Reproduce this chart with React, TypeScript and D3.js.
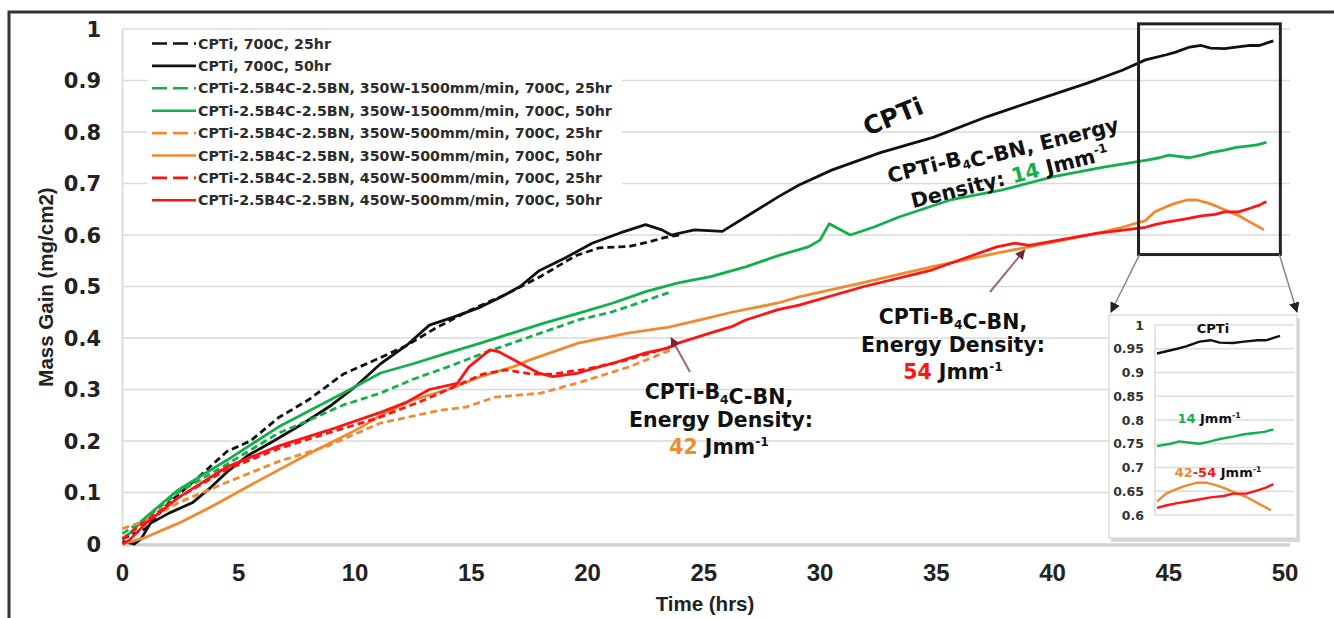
import React from 'react';
import * as d3 from 'd3';

type P = [number, number];

const X_TICKS = [0, 5, 10, 15, 20, 25, 30, 35, 40, 45, 50];
const Y_TICKS = [0, 0.1, 0.2, 0.3, 0.4, 0.5, 0.6, 0.7, 0.8, 0.9, 1];
const Y_TICK_LABELS = ['0', '0.1', '0.2', '0.3', '0.4', '0.5', '0.6', '0.7', '0.8', '0.9', '1'];
const INSET_Y_TICKS = [0.6, 0.65, 0.7, 0.75, 0.8, 0.85, 0.9, 0.95, 1];
const INSET_Y_LABELS = ['0.6', '0.65', '0.7', '0.75', '0.8', '0.85', '0.9', '0.95', '1'];

const SERIES_LABELS = [
  'CPTi, 700C, 25hr',
  'CPTi, 700C, 50hr',
  'CPTi-2.5B4C-2.5BN, 350W-1500mm/min, 700C, 25hr',
  'CPTi-2.5B4C-2.5BN, 350W-1500mm/min, 700C, 50hr',
  'CPTi-2.5B4C-2.5BN, 350W-500mm/min, 700C, 25hr',
  'CPTi-2.5B4C-2.5BN, 350W-500mm/min, 700C, 50hr',
  'CPTi-2.5B4C-2.5BN, 450W-500mm/min, 700C, 25hr',
  'CPTi-2.5B4C-2.5BN, 450W-500mm/min, 700C, 50hr',
];
const SERIES_COLORS = ['#111111', '#111111', '#12b04a', '#12b04a', '#f08a30', '#f08a30', '#ff1414', '#ff1414'];
const SERIES_DASHED = [true, false, true, false, true, false, true, false];

const CPTI_25: P[] = [[0,0.01],[1,0.03],[2,0.08],[3.4,0.135],[4.5,0.18],[5.5,0.2],[6.7,0.245],[8,0.28],[9.5,0.33],[11,0.36],[12.2,0.385],[13.5,0.42],[15,0.455],[16.5,0.485],[18,0.52],[19.5,0.56],[20.5,0.575],[21.8,0.578],[22.5,0.585],[23.4,0.596],[24,0.6]];
const CPTI_50: P[] = [[0,0.005],[0.5,0],[0.8,0.01],[1.2,0.04],[2,0.06],[3,0.08],[3.8,0.11],[4.5,0.14],[5.4,0.172],[6.5,0.2],[7.7,0.232],[9,0.27],[10,0.305],[11.1,0.35],[12.2,0.385],[13.2,0.425],[14.2,0.44],[15.4,0.46],[16.3,0.48],[17.1,0.5],[17.9,0.53],[19.1,0.557],[20.2,0.584],[21.4,0.604],[22.5,0.62],[23.2,0.61],[23.6,0.6],[24.6,0.61],[25.8,0.607],[26.8,0.635],[28.2,0.674],[29.1,0.697],[30.5,0.726],[32.6,0.76],[34.9,0.79],[37.2,0.83],[39.3,0.862],[41.5,0.895],[43,0.92],[44,0.94],[44.9,0.95],[45.3,0.955],[45.9,0.965],[46.4,0.968],[46.8,0.963],[47.4,0.962],[47.9,0.965],[48.5,0.968],[48.9,0.968],[49.5,0.977]];
const HI_25: P[] = [[0,0.02],[1,0.05],[2.4,0.1],[4.5,0.155],[6.7,0.215],[8,0.24],[9.5,0.27],[11.1,0.293],[12.5,0.32],[14,0.344],[15.5,0.37],[17.5,0.402],[19.6,0.435],[21,0.45],[22.2,0.468],[23.6,0.49]];
const HI_50: P[] = [[0,0.01],[0.3,0.02],[1,0.052],[2.4,0.105],[4.5,0.163],[6.7,0.227],[9.5,0.293],[11.1,0.332],[12.5,0.35],[14,0.371],[15.4,0.39],[16.8,0.41],[18.2,0.43],[19.6,0.448],[21.1,0.468],[22.5,0.49],[23.9,0.507],[25.3,0.519],[26.8,0.538],[28.2,0.56],[29.5,0.577],[30,0.59],[30.4,0.622],[30.8,0.612],[31.3,0.6],[32.3,0.615],[33.4,0.635],[35.6,0.668],[37.8,0.687],[40,0.713],[42.2,0.732],[44,0.745],[44.6,0.75],[45,0.755],[45.5,0.752],[45.9,0.75],[46.4,0.755],[46.8,0.76],[47.4,0.765],[47.9,0.77],[48.3,0.772],[48.8,0.775],[49.2,0.78]];
const MID_25: P[] = [[0,0.03],[1,0.045],[2.4,0.08],[4.5,0.12],[6.7,0.16],[8.8,0.19],[11.1,0.235],[13.7,0.26],[14.8,0.266],[16,0.285],[18,0.293],[19.6,0.313],[21.8,0.344],[23.6,0.377]];
const MID_50: P[] = [[0,0],[1,0.013],[2.4,0.04],[3.8,0.072],[5.9,0.124],[8.1,0.177],[10.2,0.225],[11.1,0.25],[12.5,0.28],[14,0.3],[15.4,0.325],[16.8,0.344],[17.5,0.357],[19.6,0.39],[21.8,0.41],[23.5,0.421],[25.3,0.44],[26.2,0.45],[28.2,0.468],[29.1,0.48],[31.9,0.508],[34.8,0.538],[37.6,0.565],[39,0.577],[41.9,0.603],[43,0.615],[44,0.628],[44.4,0.645],[44.9,0.655],[45.3,0.662],[45.8,0.668],[46.2,0.668],[46.7,0.662],[47.1,0.655],[47.6,0.645],[48,0.638],[48.5,0.625],[48.9,0.615],[49.1,0.61]];
const LO_25: P[] = [[0,0.01],[1,0.045],[2.4,0.09],[4.5,0.145],[6.7,0.185],[8.8,0.215],[11,0.245],[13,0.28],[14.5,0.31],[15.5,0.33],[16.5,0.338],[17.6,0.33],[18.5,0.33],[20,0.34],[21.5,0.355],[23,0.375],[23.8,0.385]];
const LO_50: P[] = [[0,0],[0.3,0.008],[1,0.04],[2.4,0.09],[4.5,0.15],[6.7,0.19],[8.8,0.22],[11,0.254],[12.2,0.275],[13.2,0.3],[14.4,0.312],[14.9,0.344],[15.8,0.377],[16.2,0.373],[17.1,0.351],[17.9,0.332],[18.5,0.325],[19.6,0.332],[20.5,0.344],[21.1,0.351],[22.5,0.371],[23.4,0.38],[23.9,0.39],[25.3,0.41],[26.2,0.422],[26.8,0.435],[28.2,0.455],[29.1,0.464],[31.9,0.5],[34.8,0.532],[37.6,0.577],[38.4,0.584],[39,0.58],[41.9,0.603],[44,0.615],[44.4,0.62],[44.9,0.625],[45.3,0.628],[45.8,0.632],[46.4,0.637],[47,0.64],[47.4,0.645],[48,0.645],[48.5,0.652],[48.9,0.658],[49.2,0.665]];

const SERIES: P[][] = [CPTI_25, CPTI_50, HI_25, HI_50, MID_25, MID_50, LO_25, LO_50];
const INSET_SERIES = [1, 3, 5, 7];
const INSET_FROM = 44;

// zoom window in data units
const BOX_T = [43.7, 49.8];
const BOX_V = [0.562, 1.01];

const W = 1334;
const H = 618;

const x = d3.scaleLinear().domain([0, 50]).range([122.5, 1285]);
const y = d3.scaleLinear().domain([0, 1]).range([544, 29]);
const ix = d3.scaleLinear().domain([44, 49.5]).range([1157, 1280]);
const iy = d3.scaleLinear().domain([0.6, 1]).range([515, 325]);

const mainLine = d3.line<P>().x(d => x(d[0])).y(d => y(d[1]));
const insetLine = d3.line<P>().x(d => ix(d[0])).y(d => iy(d[1]));

const BOLD = "'DejaVu Sans', 'Liberation Sans', Arial, sans-serif";
const ARIAL = "'Liberation Sans', Arial, sans-serif";
const NARROW = "'Liberation Sans Narrow', 'Liberation Sans', Arial, sans-serif";

const Sub = ({ c }: { c: string }) => (
  <>
    <tspan fontSize="0.6em" dy="5">{c}</tspan>
    <tspan dy="-5"></tspan>
  </>
);

export default function App() {
  const legendY = (i: number) => 43.5 + i * 22.4;
  const gridRight = x(50) + 5;
  const bx0 = x(BOX_T[0]);
  const bx1 = x(BOX_T[1]);
  const by0 = y(BOX_V[1]);
  const by1 = y(BOX_V[0]);
  const arrow42 = { tail: [690, 372], head: [x(23.6), y(0.4)] };
  const arrow54 = { tail: [990, 292], head: [x(38.8), y(0.571)] };

  return (
    <svg width={W} height={H} style={{ position: 'absolute', left: 0, top: 0, background: '#fff' }}>
      <defs>
        <marker id="ah" viewBox="0 0 10 10" refX="9" refY="5" markerWidth="7" markerHeight="7" orient="auto">
          <path d="M0,0 L10,5 L0,10 z" fill="#222" />
        </marker>
        <marker id="ahm" viewBox="0 0 10 10" refX="9" refY="5" markerWidth="5" markerHeight="5" orient="auto">
          <path d="M0,0 L10,5 L0,10 z" fill="#7a2538" />
        </marker>
      </defs>
      <rect x={0} y={0} width={W} height={H} fill="#fff" />
      {/* outer frame */}
      <rect x={9} y={12} width={W + 20} height={H + 20} fill="none" stroke="#333" strokeWidth={3} />

      {/* gridlines */}
      {Y_TICKS.map(v => (
        <line key={'g' + v} x1={x(0)} x2={gridRight} y1={y(v)} y2={y(v)} stroke="#dadada" strokeWidth={1.5} />
      ))}
      <line x1={x(0)} x2={x(0)} y1={y(1)} y2={y(0)} stroke="#d6d6d6" strokeWidth={1.5} />
      <line x1={x(0)} x2={gridRight} y1={y(0) + 1} y2={y(0) + 1} stroke="#cfcfcf" strokeWidth={3} />

      {/* y tick labels */}
      {Y_TICKS.map((v, i) => (
        <text key={'yt' + v} x={101} y={y(v)} dy="0.36em" textAnchor="end" fontFamily={BOLD} fontWeight="bold" fontSize={21} fill="#222">
          {Y_TICK_LABELS[i]}
        </text>
      ))}
      {/* x tick labels */}
      {X_TICKS.map(t => (
        <text key={'xt' + t} x={x(t)} y={572} dy="0.36em" textAnchor="middle" fontFamily={NARROW} fontWeight="bold" fontSize={24} fill="#222">
          {t}
        </text>
      ))}
      <text x={705} y={604} dy="0.36em" textAnchor="middle" fontFamily={ARIAL} fontWeight="bold" fontSize={20.5} fill="#222">Time (hrs)</text>
      <text transform="translate(46,287) rotate(-90)" dy="0.36em" textAnchor="middle" fontFamily={ARIAL} fontWeight="bold" fontSize={20.5} fill="#222">Mass Gain (mg/cm2)</text>

      {/* legend */}
      <rect x={147} y={33} width={475} height={178} fill="#fff" />
      {SERIES_LABELS.map((lab, i) => (
        <g key={'lg' + i}>
          <line x1={152} x2={196} y1={legendY(i)} y2={legendY(i)} stroke={SERIES_COLORS[i]} strokeWidth={2.6}
            strokeDasharray={SERIES_DASHED[i] ? '15,6' : undefined} />
          <text x={198} y={legendY(i)} dy="0.36em" fontFamily={BOLD} fontWeight="bold" fontSize={14.2} fill="#2c2c2c">{lab}</text>
        </g>
      ))}

      {/* series: 25 hr first, 50 hr on top */}
      {SERIES.map((s, i) => (
        <path key={'s' + i} d={mainLine(s) || ''} fill="none" stroke={SERIES_COLORS[i]} strokeWidth={2.8}
          strokeLinejoin="round" strokeDasharray={SERIES_DASHED[i] ? '7,4' : undefined} />
      ))}

      {/* annotations */}
      <g transform="translate(893,116) rotate(-22)">
        <text textAnchor="middle" dy="0.36em" fontFamily={BOLD} fontWeight="bold" fontSize={25} fill="#111">CPTi</text>
      </g>
      <g transform="translate(1006,162) rotate(-14)" fontFamily={BOLD} fontWeight="bold" fontSize={20.5} fill="#111">
        <text textAnchor="middle" y={-15} dy="0.36em">CPTi-B<Sub c="4" />C-BN, Energy</text>
        <text textAnchor="middle" y={15} dy="0.36em">Density: <tspan fill="#12b04a">14</tspan> Jmm<tspan fontSize="0.6em" dy="-8">-1</tspan></text>
      </g>
      <g fontFamily={BOLD} fontWeight="bold" fontSize={20.5} fill="#111">
        <text x={719} y={392} dy="0.36em" textAnchor="middle">CPTi-B<Sub c="4" />C-BN,</text>
        <text x={721} y={420} dy="0.36em" textAnchor="middle">Energy Density:</text>
        <text x={719} y={447} dy="0.36em" textAnchor="middle"><tspan fill="#f08a30">42</tspan> Jmm<tspan fontSize="0.6em" dy="-8">-1</tspan></text>
        <text x={953} y={317} dy="0.36em" textAnchor="middle">CPTi-B<Sub c="4" />C-BN,</text>
        <text x={953} y={345} dy="0.36em" textAnchor="middle">Energy Density:</text>
        <text x={953} y={372} dy="0.36em" textAnchor="middle"><tspan fill="#ff1414">54</tspan> Jmm<tspan fontSize="0.6em" dy="-8">-1</tspan></text>
      </g>
      <line x1={arrow42.tail[0]} y1={arrow42.tail[1]} x2={arrow42.head[0]} y2={arrow42.head[1]} stroke="#a0667a" strokeWidth={2} markerEnd="url(#ahm)" />
      <line x1={arrow54.tail[0]} y1={arrow54.tail[1]} x2={arrow54.head[0]} y2={arrow54.head[1]} stroke="#a0667a" strokeWidth={2} markerEnd="url(#ahm)" />

      {/* zoom box */}
      <rect x={bx0} y={by0} width={bx1 - bx0} height={by1 - by0} fill="none" stroke="#222" strokeWidth={3} />
      <line x1={bx0 + 1} y1={by1} x2={1111} y2={312} stroke="#888" strokeWidth={1.5} markerEnd="url(#ah)" />
      <line x1={bx1 - 1} y1={by1} x2={1297} y2={312} stroke="#888" strokeWidth={1.5} markerEnd="url(#ah)" />

      {/* inset panel */}
      <rect x={1111} y={318} width={189} height={224} fill="#d8d8d8" />
      <rect x={1109} y={315} width={188} height={223} fill="#fff" stroke="#d4d4d4" strokeWidth={1.2} />
      {INSET_Y_TICKS.map((v, i) => (
        <g key={'it' + v}>
          <line x1={1155} x2={1294} y1={iy(v)} y2={iy(v)} stroke="#dcdcdc" strokeWidth={1.3} />
          <text x={1144} y={iy(v)} dy="0.36em" textAnchor="end" fontFamily={BOLD} fontWeight="bold" fontSize={12.5} fill="#333">
            {INSET_Y_LABELS[i]}
          </text>
        </g>
      ))}
      <line x1={1155} x2={1155} y1={iy(1)} y2={iy(0.6)} stroke="#d4d4d4" strokeWidth={1.3} />
      {INSET_SERIES.map(i => (
        <path key={'is' + i} d={insetLine(SERIES[i].filter(d => d[0] >= INSET_FROM)) || ''} fill="none"
          stroke={SERIES_COLORS[i]} strokeWidth={2.4} strokeLinejoin="round" />
      ))}
      <g fontFamily={BOLD} fontWeight="bold" fontSize={13} fill="#111">
        <text x={1213} y={328} dy="0.36em" textAnchor="middle">CPTi</text>
        <text x={1209} y={418} dy="0.36em" textAnchor="middle"><tspan fill="#12b04a">14</tspan> Jmm<tspan fontSize="0.6em" dy="-5">-1</tspan></text>
        <text x={1218} y={472} dy="0.36em" textAnchor="middle"><tspan fill="#f08a30">42</tspan><tspan fill="#ff1414">-54</tspan> Jmm<tspan fontSize="0.6em" dy="-5">-1</tspan></text>
      </g>
    </svg>
  );
}
